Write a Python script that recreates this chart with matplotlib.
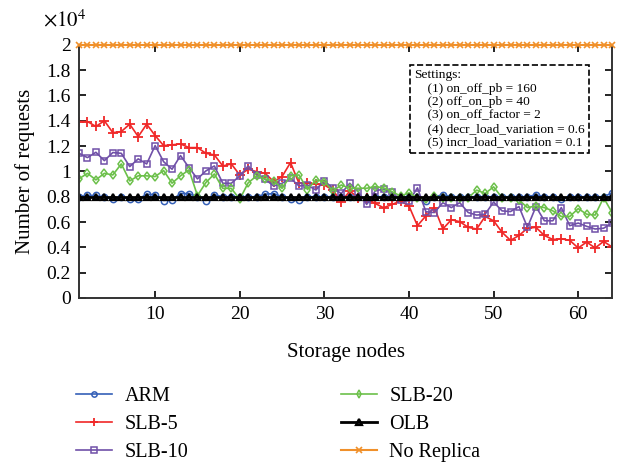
import numpy as np
import matplotlib.pyplot as plt
from matplotlib.ticker import FuncFormatter, MultipleLocator

plt.rcParams['font.family'] = ['Liberation Serif', 'DejaVu Serif']
plt.rcParams['mathtext.fontset'] = 'stix'

# storage node index
nodes = np.arange(1, 65)

# number of requests (x10^4) per node
arm = [0.80, 0.81, 0.81, 0.795, 0.78, 0.795, 0.78, 0.78, 0.82, 0.815, 0.77, 0.775, 0.825, 0.825, 0.80, 0.77,
       0.815, 0.80, 0.80, 0.80, 0.80, 0.80, 0.82, 0.825, 0.80, 0.78, 0.775, 0.80, 0.80, 0.80, 0.80, 0.80,
       0.80, 0.80, 0.78, 0.80, 0.80, 0.80, 0.80, 0.80, 0.80, 0.77, 0.80, 0.815, 0.80, 0.80, 0.80, 0.80,
       0.80, 0.80, 0.80, 0.80, 0.80, 0.80, 0.815, 0.80, 0.80, 0.78, 0.80, 0.80, 0.80, 0.80, 0.80, 0.83]
slb5 = [1.394, 1.394, 1.355, 1.40, 1.306, 1.315, 1.373, 1.275, 1.373, 1.283, 1.204, 1.21, 1.217, 1.188, 1.188, 1.143,
        1.13, 1.043, 1.059, 0.972, 1.017, 0.998, 0.985, 0.920, 0.959, 1.07, 0.906, 0.906, 0.90, 0.892, 0.853, 0.76,
        0.845, 0.792, 0.787, 0.747, 0.713, 0.739, 0.766, 0.727, 0.571, 0.649, 0.714, 0.545, 0.618, 0.603, 0.558, 0.545,
        0.644, 0.610, 0.519, 0.455, 0.494, 0.551, 0.558, 0.494, 0.462, 0.468, 0.455, 0.395, 0.442, 0.395, 0.447, 0.403]
slb10 = [1.143, 1.109, 1.151, 1.085, 1.149, 1.143, 1.038, 1.099, 1.059, 1.204, 1.077, 1.017, 1.125, 1.030, 0.941, 1.004,
         1.043, 0.906, 0.906, 0.964, 1.043, 0.972, 0.938, 0.885, 0.906, 0.946, 0.885, 0.892, 0.853, 0.926, 0.866, 0.826,
         0.906, 0.84, 0.739, 0.845, 0.861, 0.834, 0.774, 0.766, 0.870, 0.681, 0.675, 0.753, 0.714, 0.753, 0.675, 0.655,
         0.662, 0.758, 0.688, 0.683, 0.722, 0.558, 0.722, 0.610, 0.610, 0.714, 0.571, 0.592, 0.566, 0.545, 0.551, 0.592]
slb20 = [0.941, 0.985, 0.933, 0.985, 0.972, 1.059, 0.925, 0.965, 0.965, 0.959, 1.007, 0.907, 0.965, 1.012, 0.809, 0.912,
         0.980, 0.866, 0.866, 0.78, 0.91, 0.965, 0.94, 0.925, 0.866, 0.965, 0.972, 0.857, 0.933, 0.92, 0.845, 0.893,
         0.867, 0.867, 0.867, 0.88, 0.87, 0.84, 0.805, 0.831, 0.792, 0.779, 0.805, 0.792, 0.792, 0.792, 0.792, 0.852,
         0.826, 0.878, 0.792, 0.792, 0.774, 0.714, 0.727, 0.714, 0.688, 0.644, 0.644, 0.706, 0.662, 0.655, 0.792, 0.675]
olb = [0.80] * 64
no_replica = [2.0] * 64

settings = ["Settings:",
            "    (1) on_off_pb = 160",
            "    (2) off_on_pb = 40",
            "    (3) on_off_factor = 2",
            "    (4) decr_load_variation = 0.6",
            "    (5) incr_load_variation = 0.1"]

fig = plt.figure(figsize=(6.17, 4.62), dpi=100)
ax = fig.add_axes([0.128, 0.355, 0.864, 0.548])

kw = dict(lw=1.2, ms=4.5, mfc='none', mew=1.1)
l1, = ax.plot(nodes, arm, '-o', color='#3560b8', label='ARM', **kw)
l2, = ax.plot(nodes, slb5, '-+', color='#f02828', label='SLB-5', lw=1.2, ms=7, mew=1.3)
l3, = ax.plot(nodes, slb10, '-s', color='#7050a8', label='SLB-10', **kw)
l4, = ax.plot(nodes, slb20, '-d', color='#6cc04a', label='SLB-20', **kw)
l5, = ax.plot(nodes, olb, '-^', color='black', label='OLB', lw=2, ms=5, mfc='none', mew=1.6)
l6, = ax.plot(nodes, no_replica, '-x', color='#f0902a', label='No Replica', lw=1.5, ms=5, mew=1.2,
              clip_on=False, zorder=5)

ax.set_xlim(1, 64)
ax.set_ylim(0, 2)
ax.xaxis.set_major_locator(MultipleLocator(10))
ax.yaxis.set_major_locator(MultipleLocator(0.2))
ax.yaxis.set_major_formatter(FuncFormatter(lambda v, p: '%g' % round(v, 1)))
ax.tick_params(direction='in', top=True, right=True, labelsize=14, length=5, width=1.2, pad=6)
for s in ax.spines.values():
    s.set_linewidth(1.4)
    s.set_color('#333333')

ax.set_xlabel('Storage nodes', fontsize=15, labelpad=14)
ax.set_ylabel('Number of requests', fontsize=15, labelpad=8)
fig.text(43 / 617, 1 - 26 / 462, r'$\times10^4$', fontsize=15, ha='left', va='baseline')

ax.text(0.628, 0.903, '\n'.join(settings), transform=ax.transAxes, va='top', ha='left',
        fontsize=9.6, linespacing=1.16,
        bbox=dict(boxstyle='square,pad=0.3', fc='white', ec='black', ls='--', lw=1.2))

fig.legend(handles=[l1, l2, l3, l4, l5, l6], ncol=2, loc='upper left',
           bbox_to_anchor=(76 / 617, 1 - 387 / 462), frameon=False, fontsize=14.5,
           handlelength=1.8, handletextpad=0.6, labelspacing=0.45, columnspacing=7.6,
           borderaxespad=0, borderpad=0, markerscale=0.85)

fig.savefig('out.png', dpi=100)
